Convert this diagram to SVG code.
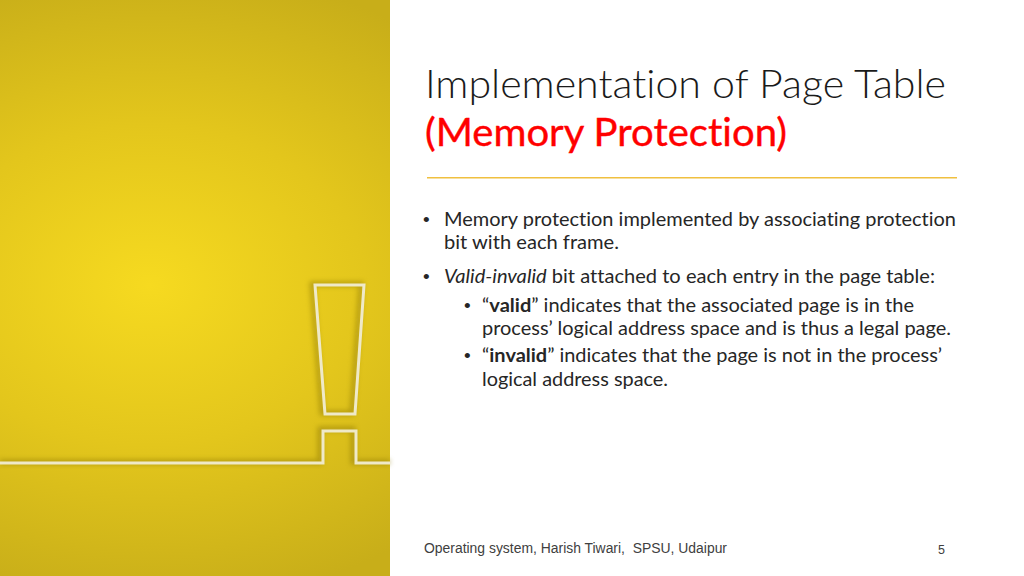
<svg xmlns="http://www.w3.org/2000/svg" width="1024" height="576" viewBox="0 0 1024 576">
<defs>
<radialGradient id="bg" gradientUnits="userSpaceOnUse" cx="0" cy="0" r="1" gradientTransform="translate(150 285) scale(430 320)">
<stop offset="0" stop-color="#f6da20"/><stop offset="0.5" stop-color="#e3c61c"/><stop offset="1" stop-color="#c8ae19"/>
</radialGradient>
<filter id="blur" x="-20%" y="-20%" width="140%" height="140%"><feGaussianBlur stdDeviation="2.5"/></filter>
</defs>
<style>
text{font-variant-ligatures:none}
.c{font-family:Lato,"Noto Sans",sans-serif;font-size:19px;fill:#262626}
.b{font-family:"Liberation Sans",Arial,sans-serif;font-size:19px;fill:#262626}
.t{font-family:Lato,"Noto Sans",sans-serif;font-weight:300;font-size:39px;fill:#1a1a1a}
.r{font-family:Lato,"Noto Sans",sans-serif;font-weight:400;font-size:39px;fill:#ff0000;stroke:#ff0000;stroke-width:.4}
.f{font-family:"Liberation Sans",Arial,sans-serif;font-size:14px;fill:#404040;white-space:pre}
.l{fill:none;stroke:#efe9c8;stroke-width:3}
.s{fill:none;stroke:#8a7608;stroke-width:5;opacity:.5;filter:url(#blur)}
</style>
<rect width="1024" height="576" fill="#fff"/>
<rect width="390" height="576" fill="url(#bg)"/>
<path class="s" d="M0 462H320V429H353V462H390"/>
<path class="s" d="M312 284H361L352 413H322Z"/>
<path class="l" d="M0 463H323V431H356V463H390"/>
<path class="l" d="M315 285H364L355 414H325Z"/>
<text class="t" x="425" y="98" textLength="521" lengthAdjust="spacingAndGlyphs">Implementation of Page Table</text>
<text class="r" x="425" y="146" textLength="362" lengthAdjust="spacingAndGlyphs">(Memory Protection)</text>
<rect x="427" y="177" width="530" height="1.5" fill="#f0c040"/>
<g class="c">
<text class="b" x="423" y="226">•</text><text x="444" y="226" textLength="512" lengthAdjust="spacingAndGlyphs">Memory protection implemented by associating protection</text>
<text x="444" y="249" textLength="175" lengthAdjust="spacingAndGlyphs">bit with each frame.</text>
<text class="b" x="423" y="283">•</text><text x="444" y="283" textLength="491" lengthAdjust="spacingAndGlyphs"><tspan font-style="italic">Valid-invalid</tspan> bit attached to each entry in the page table:</text>
<text class="b" x="464" y="312">•</text><text x="482" y="312" textLength="432" lengthAdjust="spacingAndGlyphs">“<tspan font-weight="bold">valid</tspan>” indicates that the associated page is in the</text>
<text x="482" y="335" textLength="469" lengthAdjust="spacingAndGlyphs">process’ logical address space and is thus a legal page.</text>
<text class="b" x="464" y="362">•</text><text x="482" y="362" textLength="460" lengthAdjust="spacingAndGlyphs">“<tspan font-weight="bold">invalid</tspan>” indicates that the page is not in the process’</text>
<text x="482" y="386" textLength="186" lengthAdjust="spacingAndGlyphs">logical address space.</text>
</g>
<text class="f" x="424" y="553" textLength="303" lengthAdjust="spacingAndGlyphs">Operating system, Harish Tiwari,  SPSU, Udaipur</text>
<text class="f" x="938" y="554" style="font-size:12.5px">5</text>
</svg>
